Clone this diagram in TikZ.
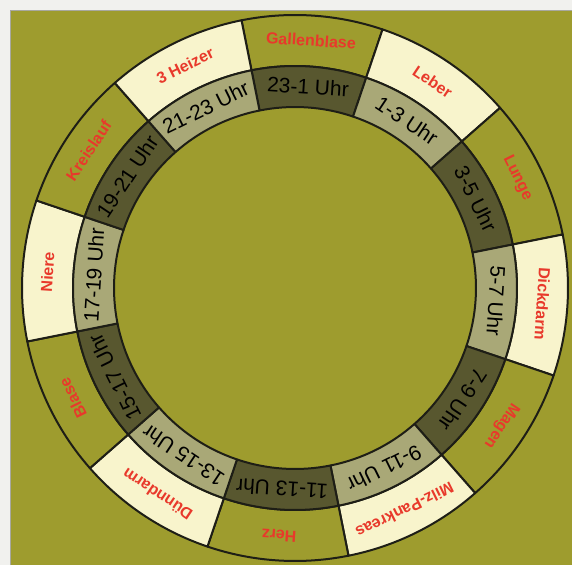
\documentclass[tikz,border=0pt]{standalone}
\usepackage{fontspec}
\setmainfont{Liberation Sans}
\definecolor{bgolive}{HTML}{9E9C2E}
\definecolor{cream}{HTML}{F8F4CC}
\definecolor{hdark}{HTML}{58572F}
\definecolor{hlight}{HTML}{A9A877}
\definecolor{orgred}{HTML}{E8392B}
\definecolor{marginc}{HTML}{F1F1EE}
\definecolor{edgec}{HTML}{A8A8A0}
\definecolor{linec}{HTML}{1E1E16}
\begin{document}
\begin{tikzpicture}[x=1pt,y=1pt,
  seg/.style={draw=linec, line width=2pt, line join=round},
  orgtxt/.style={text=orgred, font=\fontsize{16}{16}\selectfont\bfseries, inner sep=0pt},
  hrtxt/.style={text=black, font=\fontsize{21}{21}\selectfont, inner sep=0pt}]
\useasboundingbox (0,0) rectangle (572,565);
\fill[marginc] (0,0) rectangle (572,565);
\fill[bgolive] (11,0) rectangle (572,554);
\draw[edgec, line width=1pt] (10.5,0) -- (10.5,554.5) -- (572,554.5);
\begin{scope}[shift={(295,277)}]
\foreach \k/\org/\hr/\oc/\ic in {
  0/Gallenblase/23-1 Uhr/bgolive/hdark,
  1/Leber/1-3 Uhr/cream/hlight,
  2/Lunge/3-5 Uhr/bgolive/hdark,
  3/Dickdarm/5-7 Uhr/cream/hlight,
  4/Magen/7-9 Uhr/bgolive/hdark,
  5/Milz-Pankreas/9-11 Uhr/cream/hlight,
  6/Herz/11-13 Uhr/bgolive/hdark,
  7/Dünndarm/13-15 Uhr/cream/hlight,
  8/Blase/15-17 Uhr/bgolive/hdark,
  9/Niere/17-19 Uhr/cream/hlight,
  10/Kreislauf/19-21 Uhr/bgolive/hdark,
  11/3 Heizer/21-23 Uhr/cream/hlight}{
  \pgfmathsetmacro\mid{86.3-30*\k}
  \pgfmathsetmacro\a{\mid+15}
  \pgfmathsetmacro\b{\mid-15}
  \pgfmathsetmacro\rot{\mid-90}
  \draw[seg, fill=\oc] (\a:222pt) arc[start angle=\a, end angle=\b, radius=222pt]
     -- (\b:273pt) arc[start angle=\b, end angle=\a, radius=273pt] -- cycle;
  \draw[seg, fill=\ic] (\a:181pt) arc[start angle=\a, end angle=\b, radius=181pt]
     -- (\b:222pt) arc[start angle=\b, end angle=\a, radius=222pt] -- cycle;
  \node[orgtxt, rotate=\rot] (o\k) at (\mid:248pt) {\org};
  \node[hrtxt, rotate=\rot] (h\k) at (\mid:201.5pt) {\hr};
}
\end{scope}
\end{tikzpicture}
\end{document}
